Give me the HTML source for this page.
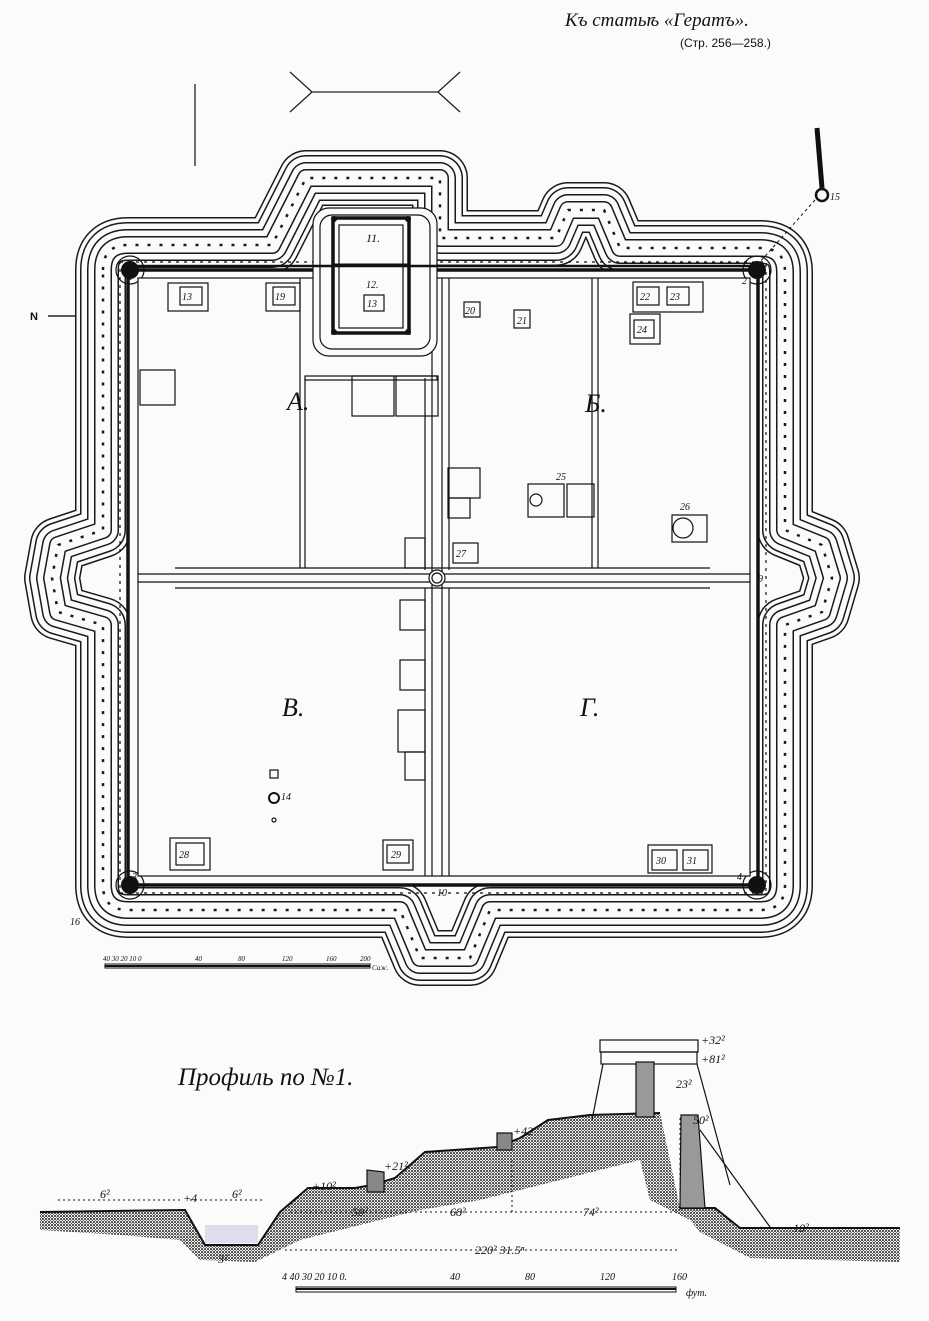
<!DOCTYPE html>
<html><head><meta charset="utf-8">
<style>
html,body{margin:0;padding:0;background:#fbfbf9;}
svg{display:block;}
text{font-family:"Liberation Serif",serif;fill:#111;}
.s{font-family:"Liberation Sans",sans-serif;}
</style></head><body>
<svg width="929" height="1321" viewBox="0 0 929 1321" xmlns="http://www.w3.org/2000/svg">
<rect width="929" height="1321" fill="#fbfbf9"/>
<text x="565" y="26" font-size="19" font-style="italic">Къ статьѣ «Гератъ».</text>
<text x="680" y="47" font-size="12" class="s">(Стр. 256—258.)</text>
<line x1="195" y1="84" x2="195" y2="166" stroke="#222" stroke-width="1.3"/>
<path d="M290 72 L312 92 L438 92 L460 72 M290 112 L312 92 M438 92 L460 112" fill="none" stroke="#222" stroke-width="1.3"/>
<line x1="48" y1="316" x2="80" y2="316" stroke="#222" stroke-width="1.5"/>
<text x="30" y="320" font-size="11" class="s" font-weight="bold">N</text>

<g fill="none" stroke-linejoin="round">
<path id="ring" d="M103 270 Q103 245 128 245 L272 245 L306 178 L440 178 L440 238 L556 238 L568 210 L604 210 L620 248 L760 248 Q785 248 785 272 L785 530 L822 545 L832 578 L822 612 L785 625 L785 885 Q785 910 760 910 L490 910 L470 958 L420 958 L400 910 L128 910 Q103 910 103 885 L103 625 L58 612 L52 578 L58 545 L103 530 Z"/>
<use href="#ring" stroke="#1a1a1a" stroke-width="56"/>
<use href="#ring" stroke="#fbfbf9" stroke-width="53"/>
<use href="#ring" stroke="#1a1a1a" stroke-width="46"/>
<use href="#ring" stroke="#fbfbf9" stroke-width="43"/>
<use href="#ring" stroke="#1a1a1a" stroke-width="32"/>
<use href="#ring" stroke="#fbfbf9" stroke-width="29"/>
<use href="#ring" stroke="#1a1a1a" stroke-width="18"/>
<use href="#ring" stroke="#fbfbf9" stroke-width="15"/>
<use href="#ring" stroke="#1a1a1a" stroke-width="2.5" stroke-dasharray="3 9"/>
</g>
<rect x="128" y="270" width="630" height="615" fill="#fbfbf9" stroke="#111" stroke-width="3.5"/>
<rect x="120" y="262" width="646" height="631" fill="none" stroke="#111" stroke-width="1.2" stroke-dasharray="3 5"/>
<g fill="#111">
<circle cx="130" cy="270" r="9"/><circle cx="757" cy="270" r="9"/><circle cx="130" cy="885" r="9"/><circle cx="757" cy="885" r="9"/>
</g>
<g fill="none" stroke="#111" stroke-width="1.2">
<circle cx="130" cy="270" r="14"/><circle cx="757" cy="270" r="14"/><circle cx="130" cy="885" r="14"/><circle cx="757" cy="885" r="14"/>
</g>
<g stroke="#111" stroke-width="1.2" fill="none">
<rect x="138" y="278" width="612" height="598" fill="#fbfbf9"/>
<line x1="432" y1="278" x2="432" y2="876"/><line x1="442" y1="278" x2="442" y2="876"/>
<line x1="425" y1="378" x2="425" y2="570"/><line x1="449" y1="278" x2="449" y2="570"/>
<line x1="425" y1="588" x2="425" y2="876"/><line x1="449" y1="588" x2="449" y2="876"/>
<line x1="175" y1="568" x2="710" y2="568"/><line x1="175" y1="588" x2="710" y2="588"/>
<line x1="138" y1="574" x2="750" y2="574"/><line x1="138" y1="582" x2="750" y2="582"/>
<line x1="300" y1="278" x2="300" y2="568"/><line x1="305" y1="378" x2="305" y2="568"/>
<line x1="592" y1="278" x2="592" y2="568"/><line x1="598" y1="278" x2="598" y2="568"/>
<circle cx="437" cy="578" r="8" fill="#fbfbf9"/><circle cx="437" cy="578" r="5"/>
<rect x="305" y="376" width="132" height="4"/>
<rect x="352" y="376" width="42" height="40"/><rect x="396" y="376" width="42" height="40"/>
<rect x="140" y="370" width="35" height="35"/>
<rect x="448" y="468" width="32" height="30"/><rect x="448" y="498" width="22" height="20"/>
<rect x="405" y="538" width="20" height="30"/>
<rect x="400" y="600" width="25" height="30"/><rect x="400" y="660" width="25" height="30"/>
<rect x="398" y="710" width="27" height="42"/><rect x="405" y="752" width="20" height="28"/>
<rect x="168" y="283" width="40" height="28"/><rect x="266" y="283" width="34" height="28"/>
<rect x="633" y="282" width="70" height="30"/><rect x="630" y="314" width="30" height="30"/>
<rect x="528" y="484" width="36" height="33"/><rect x="567" y="484" width="27" height="33"/>
<circle cx="536" cy="500" r="6"/>
<rect x="672" y="515" width="35" height="27"/><circle cx="683" cy="528" r="10"/>
<rect x="170" y="838" width="40" height="32"/><rect x="383" y="840" width="30" height="30"/>
<rect x="648" y="845" width="64" height="28"/>
<rect x="270" y="770" width="8" height="8"/><circle cx="274" cy="798" r="5" stroke-width="2"/><circle cx="274" cy="820" r="2"/>
</g>
<g stroke="#111" stroke-width="1.2" fill="#fbfbf9">
<rect x="180" y="287" width="22" height="18"/><rect x="273" y="287" width="22" height="18"/>
<rect x="464" y="302" width="16" height="15"/><rect x="514" y="310" width="16" height="18"/>
<rect x="637" y="287" width="22" height="18"/><rect x="667" y="287" width="22" height="18"/>
<rect x="634" y="320" width="20" height="18"/>
<rect x="453" y="543" width="25" height="20"/>
<rect x="176" y="843" width="28" height="22"/><rect x="387" y="845" width="22" height="18"/>
<rect x="652" y="850" width="25" height="20"/><rect x="683" y="850" width="25" height="20"/>
</g>
<g fill="none" stroke="#111">
<rect x="313" y="208" width="124" height="148" rx="16" stroke-width="1.2" fill="#fbfbf9"/>
<rect x="320" y="215" width="110" height="134" rx="12" stroke-width="1.2"/>
<rect x="333" y="218" width="76" height="115" stroke-width="3.5"/>
<rect x="339" y="225" width="64" height="103" stroke-width="1.2"/>
<line x1="333" y1="265" x2="409" y2="265" stroke-width="3"/>
<rect x="364" y="295" width="20" height="16" stroke-width="1.2"/>
</g>
<g fill="#111"><circle cx="334" cy="219" r="3"/><circle cx="408" cy="219" r="3"/><circle cx="334" cy="332" r="3"/><circle cx="408" cy="332" r="3"/></g>
<line x1="128" y1="266" x2="757" y2="266" stroke="#111" stroke-width="2.5"/>
<g font-size="10" font-style="italic">
<text x="182" y="300">13</text><text x="275" y="300">19</text><text x="465" y="314">20</text><text x="517" y="324">21</text>
<text x="640" y="300">22</text><text x="670" y="300">23</text><text x="637" y="333">24</text>
<text x="556" y="480">25</text><text x="680" y="510">26</text><text x="456" y="557">27</text>
<text x="179" y="858">28</text><text x="391" y="858">29</text><text x="656" y="864">30</text><text x="687" y="864">31</text>
<text x="366" y="242" font-size="12">11.</text><text x="366" y="288">12.</text><text x="367" y="307">13</text>
<text x="281" y="800">14</text><text x="830" y="200">15</text><text x="70" y="925">16</text>
<text x="128" y="280">1</text><text x="742" y="284">2</text><text x="132" y="880">3</text><text x="737" y="880">4</text>
<text x="758" y="582">9</text><text x="437" y="896">10</text>
</g>
<line x1="817" y1="128" x2="822" y2="188" stroke="#111" stroke-width="5"/>
<circle cx="822" cy="195" r="6" fill="#fbfbf9" stroke="#111" stroke-width="2.5"/>
<line x1="815" y1="200" x2="760" y2="262" stroke="#111" stroke-dasharray="3 3"/>
<g font-size="26" font-style="italic">
<text x="287" y="410">А.</text><text x="585" y="412">Б.</text><text x="282" y="716">В.</text><text x="580" y="716">Г.</text>
</g>
<g stroke="#111" stroke-width="1">
<rect x="105" y="964" width="265" height="4" fill="none"/>
<line x1="105" y1="966" x2="370" y2="966" stroke-width="2"/>
</g>
<g font-size="7" font-style="italic">
<text x="103" y="961">40 30 20 10 0</text><text x="195" y="961">40</text><text x="238" y="961">80</text><text x="282" y="961">120</text><text x="326" y="961">160</text><text x="360" y="961">200</text><text x="372" y="970">Саж.</text>
</g>
<text x="178" y="1085" font-size="25" font-style="italic">Профиль по №1.</text>
<defs><pattern id="dots" width="3" height="3" patternUnits="userSpaceOnUse"><rect width="3" height="3" fill="#fbfbf9"/><circle cx="1" cy="1" r="1" fill="#222"/><circle cx="2.4" cy="2.4" r="0.6" fill="#444"/></pattern></defs>
<path d="M40 1212 L185 1210 L205 1245 L258 1245 L280 1212 L308 1188 L355 1188 L372 1185 L395 1178 L425 1152 L498 1147 L520 1138 L548 1120 L590 1115 L660 1113 L680 1208 L715 1208 L740 1228 L900 1228 L900 1262 L750 1258 L700 1232 L690 1220 L650 1200 L640 1160 L560 1180 L480 1200 L420 1210 L300 1240 L255 1262 L200 1260 L180 1240 L120 1235 L40 1230 Z" fill="url(#dots)"/>
<path d="M40 1212 L185 1210 L205 1245 L258 1245 L280 1212 L308 1188 L355 1188 L372 1185 L395 1178 L425 1152 L498 1147 L520 1138 L548 1120 L590 1115 L660 1113" fill="none" stroke="#111" stroke-width="2"/>
<path d="M680 1208 L715 1208 L740 1228 L900 1228" fill="none" stroke="#111" stroke-width="2"/>
<rect x="205" y="1225" width="53" height="18" fill="#dde" stroke="none"/>
<g stroke="#111" fill="none" stroke-width="1.2">
<rect x="600" y="1040" width="98" height="12"/>
<rect x="601" y="1052" width="96" height="12"/>
<path d="M603 1064 L592 1120 M697 1064 L730 1185"/>
<line x1="700" y1="1130" x2="770" y2="1227"/>
<rect x="636" y="1062" width="18" height="55" fill="#999"/>
<path d="M681 1115 L698 1115 L705 1208 L680 1208 Z" fill="#999"/>
<path d="M367 1170 L367 1192 L384 1192 L384 1172 Z" fill="#888"/>
<path d="M497 1133 L497 1150 L512 1150 L512 1133 Z" fill="#888"/>
</g>
<g stroke="#111" stroke-width="1" stroke-dasharray="2 3">
<line x1="58" y1="1200" x2="180" y2="1200"/><line x1="190" y1="1200" x2="265" y2="1200"/>
<line x1="290" y1="1212" x2="680" y2="1212"/><line x1="285" y1="1250" x2="680" y2="1250"/>
<line x1="512" y1="1160" x2="512" y2="1212"/><line x1="680" y1="1118" x2="680" y2="1212"/>
</g>
<g font-size="12" font-style="italic">
<text x="100" y="1198">6²</text><text x="183" y="1202">+4</text><text x="232" y="1198">6²</text><text x="312" y="1190">+10²</text>
<text x="384" y="1170">+21²</text><text x="513" y="1135">+42</text><text x="701" y="1044">+32²</text><text x="701" y="1063">+81²</text>
<text x="676" y="1088">23²</text><text x="693" y="1124">50²</text><text x="352" y="1216">50²</text><text x="450" y="1216">68²</text>
<text x="583" y="1216">74²</text><text x="475" y="1254">220² 31.5ⁿ</text><text x="785" y="1232">−10²</text><text x="218" y="1263">3²</text>
</g>
<rect x="296" y="1287" width="380" height="5" fill="#fbfbf9" stroke="#111"/>
<line x1="296" y1="1289" x2="676" y2="1289" stroke="#111" stroke-width="2"/>
<g font-size="10" font-style="italic">
<text x="282" y="1280">4 40 30 20 10 0.</text><text x="450" y="1280">40</text><text x="525" y="1280">80</text><text x="600" y="1280">120</text><text x="672" y="1280">160</text><text x="686" y="1296">фут.</text>
</g>
</svg>
</body></html>
